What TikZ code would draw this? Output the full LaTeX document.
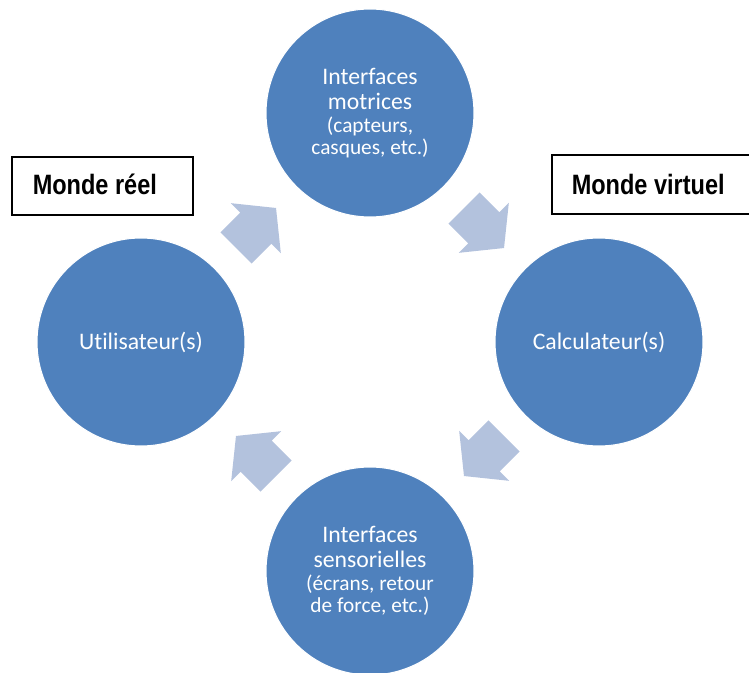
\documentclass[tikz,border=0pt]{standalone}
\usepackage{fontspec}
\setmainfont{Carlito}[Ligatures={NoCommon}]
\newfontfamily\boxfont[FakeStretch=0.84,UprightFont=* Bold]{Liberation Sans}
\definecolor{circblue}{RGB}{79,129,189}
\definecolor{arrowblue}{RGB}{179,194,221}
\newcommand\mainsz{\fontsize{17.8}{19}\selectfont}
\newcommand\parsz{\fontsize{16}{16.5}\selectfont}
\begin{document}
\begin{tikzpicture}[x=0.75pt,y=0.75pt,
  bigcirc/.style={circle,fill=circblue,draw=white,line width=0.8pt,minimum size=156pt,inner sep=0pt,text=white,align=center,font=\mainsz},
  labelbox/.style={draw=black,line width=1.2pt,fill=white},
  labeltext/.style={font=\boxfont\fontsize{21}{24}\selectfont,anchor=base west,inner sep=0pt},
  blockarrow/.style={fill=arrowblue,draw=none}]
\useasboundingbox (0,0) rectangle (749,672);
\clip (0,0) rectangle (749,672);
% circles
\node[bigcirc] (top) at (370,559) {Interfaces\\[0pt]motrices\\[-2pt]\parsz(capteurs,\\[-2pt]\parsz casques, etc.)};
\node[bigcirc] (left) at (141,330) {Utilisateur(s)};
\node[bigcirc] (right) at (599,330) {Calculateur(s)};
\node[bigcirc] (bottom) at (370,101) {Interfaces\\[0pt]sensorielles\\[-2pt]\parsz(écrans, retour\\[-2pt]\parsz de force, etc.)};
% arrows (rotational symmetry about the centre)
\foreach \ang/\nm in {0/a1,-90/a2,-180/a3,-270/a4}{
  \begin{scope}[rotate around={\ang:(370,330)}]
    \begin{scope}[shift={(236,424)},rotate=45]
      \fill[blockarrow] (0,-22) -- (28,-22) -- (28,-35.4) -- (56.6,0) -- (28,35.4) -- (28,22) -- (0,22) -- cycle;
    \end{scope}
  \end{scope}
}
% labels
\draw[labelbox] (12,457) rectangle (193,515);
\node[labeltext] (reel) at (32.5,477) {Monde réel};
\draw[labelbox] (552,458) rectangle (760,517);
\node[labeltext] (virtuel) at (571.5,477.5) {Monde virtuel};
\end{tikzpicture}
\end{document}
